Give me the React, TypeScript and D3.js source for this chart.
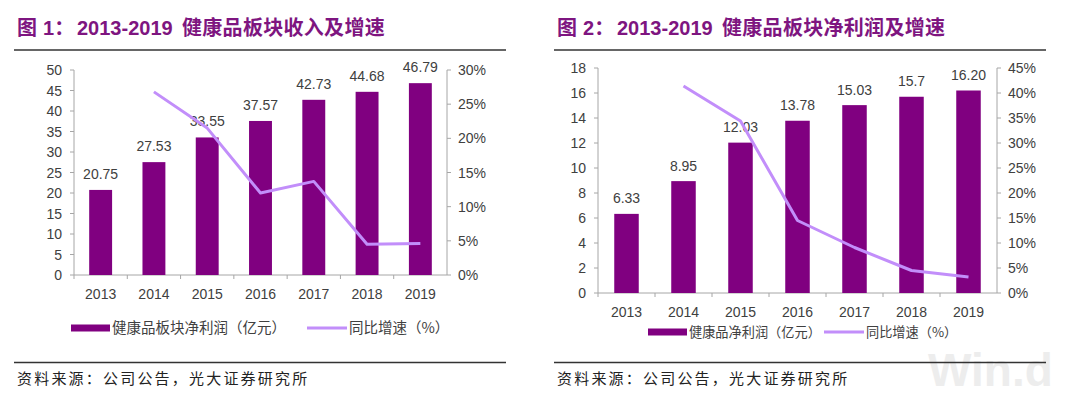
import React from "react";
import * as d3 from "d3";

const years = ["2013", "2014", "2015", "2016", "2017", "2018", "2019"];

// Figure 1: revenue (亿元) and YoY growth (%)
const revenue = [20.75, 27.53, 33.55, 37.57, 42.73, 44.68, 46.79];
const revenueLabels = ["20.75", "27.53", "33.55", "37.57", "42.73", "44.68", "46.79"];
const revenueGrowth: (number | null)[] = [null, 26.8, 21.5, 12.0, 13.7, 4.5, 4.6];
const revenueTicks = [0, 5, 10, 15, 20, 25, 30, 35, 40, 45, 50];
const revenuePctTicks = [0, 5, 10, 15, 20, 25, 30];

// Figure 2: net profit (亿元) and YoY growth (%)
const profit = [6.33, 8.95, 12.03, 13.78, 15.03, 15.7, 16.2];
const profitLabels = ["6.33", "8.95", "12.03", "13.78", "15.03", "15.7", "16.20"];
const profitGrowth: (number | null)[] = [null, 41.4, 34.4, 14.5, 9.1, 4.5, 3.2];
const profitTicks = [0, 2, 4, 6, 8, 10, 12, 14, 16, 18];
const profitPctTicks = [0, 5, 10, 15, 20, 25, 30, 35, 40, 45];

const BAR = "#800080";
const LINE = "#C28EFA";
const AXIS = "#A6A6A6";
const TEXT = "#404040";
const TITLE = "#7E1580";
const NUM_FONT = "'Liberation Sans', Arial, sans-serif";
const CJK_FONT = "'Noto Sans CJK SC', sans-serif";

interface PanelProps {
  x0: number; // panel left offset
  figNo: string;
  titleText: string;
  values: number[];
  labels: string[];
  growth: (number | null)[];
  leftTicks: number[];
  rightTicks: number[];
  plot: { left: number; right: number; top: number; bottom: number };
  yearY: number;
  legendY: number;
  legendSize: number;
  legend: { rect: number; barText: string; line: number; lineText: string };
  labelGap: number;
}

const Panel: React.FC<PanelProps> = ({ x0, figNo, titleText, values, labels, growth, leftTicks, rightTicks, plot, yearY, legendY, legendSize, legend, labelGap }) => {
  const x = d3.scaleBand<string>().domain(years).range([plot.left, plot.right]).paddingInner(0.57).paddingOuter(0.285);
  const band = d3.scaleBand<string>().domain(years).range([plot.left, plot.right]);
  const y = d3.scaleLinear().domain([0, leftTicks[leftTicks.length - 1]]).range([plot.bottom, plot.top]);
  const y2 = d3.scaleLinear().domain([0, rightTicks[rightTicks.length - 1]]).range([plot.bottom, plot.top]);

  const lineData = years.map((yr, i) => ({ yr, v: growth[i] })).filter((d) => d.v !== null) as { yr: string; v: number }[];
  const line = d3.line<{ yr: string; v: number }>()
    .x((d) => (band(d.yr) as number) + band.bandwidth() / 2)
    .y((d) => y2(d.v));

  return (
    <g transform={`translate(${x0},0)`}>
      <text y={35} fill={TITLE} fontWeight="bold" fontSize={20}>
        <tspan x={17} fontFamily={CJK_FONT}>图</tspan>
        <tspan x={43} fontFamily={NUM_FONT}>{figNo}</tspan>
        <tspan fontFamily={CJK_FONT}>：</tspan>
        <tspan x={77} fontFamily={NUM_FONT}>2013-2019</tspan>
        <tspan x={182} fontFamily={CJK_FONT} letterSpacing={0.3}>{titleText}</tspan>
      </text>
      <line x1={14} x2={506} y1={50} y2={50} stroke="#333" strokeWidth={1.5} />

      {/* left axis */}
      <line x1={plot.left} x2={plot.left} y1={plot.top} y2={plot.bottom} stroke={AXIS} />
      {leftTicks.map((t) => (
        <g key={"l" + t}>
          <line x1={plot.left - 4} x2={plot.left} y1={y(t)} y2={y(t)} stroke={AXIS} />
          <text x={plot.left - 12} y={y(t) + 5} textAnchor="end" fontFamily={NUM_FONT} fontSize={14} fill={TEXT}>{t}</text>
        </g>
      ))}

      {/* right axis */}
      <line x1={plot.right} x2={plot.right} y1={plot.top} y2={plot.bottom} stroke={AXIS} />
      {rightTicks.map((t) => (
        <g key={"r" + t}>
          <line x1={plot.right} x2={plot.right + 4} y1={y2(t)} y2={y2(t)} stroke={AXIS} />
          <text x={plot.right + 11} y={y2(t) + 5} fontFamily={NUM_FONT} fontSize={14} fill={TEXT}>{t}%</text>
        </g>
      ))}

      {/* x axis */}
      <line x1={plot.left} x2={plot.right} y1={plot.bottom} y2={plot.bottom} stroke={AXIS} />
      {years.map((yr) => (
        <line key={"t" + yr} x1={band(yr) as number} x2={band(yr) as number} y1={plot.bottom} y2={plot.bottom + 4} stroke={AXIS} />
      ))}
      {years.map((yr) => (
        <text key={"x" + yr} x={(band(yr) as number) + band.bandwidth() / 2} y={yearY} textAnchor="middle" fontFamily={NUM_FONT} fontSize={14} fill={TEXT}>{yr}</text>
      ))}

      {/* bars */}
      {years.map((yr, i) => (
        <rect key={"b" + yr} x={x(yr)} y={y(values[i])} width={x.bandwidth()} height={plot.bottom - y(values[i])} fill={BAR} />
      ))}
      {years.map((yr, i) => (
        <text key={"v" + yr} x={(x(yr) as number) + x.bandwidth() / 2} y={y(values[i]) - labelGap} textAnchor="middle" fontFamily={NUM_FONT} fontSize={14} fill={TEXT}>{labels[i]}</text>
      ))}

      {/* growth line */}
      <path d={line(lineData) || ""} fill="none" stroke={LINE} strokeWidth={3} strokeLinejoin="round" />

      {/* legend */}
      <rect x={legend.rect} y={legendY - 3.5} width={39} height={7} fill={BAR} />
      <text x={legend.rect + 41} y={legendY + legendSize * 0.36} fontFamily={CJK_FONT} fontSize={legendSize} fill={TEXT}>{legend.barText}</text>
      <line x1={legend.line} x2={legend.line + 40} y1={legendY} y2={legendY} stroke={LINE} strokeWidth={3} />
      <text x={legend.line + 42} y={legendY + legendSize * 0.36} fontFamily={CJK_FONT} fontSize={legendSize} fill={TEXT}>{legend.lineText}</text>

      <line x1={14} x2={506} y1={362.5} y2={362.5} stroke="#333" strokeWidth={1.5} />
      <text x={17} y={384} fontFamily={CJK_FONT} fontSize={15} letterSpacing={2.2} fill="#222">资料来源：公司公告，光大证券研究所</text>
    </g>
  );
};

export default function App() {
  return (
    <svg width={1080} height={398} style={{ position: "absolute", left: 0, top: 0, background: "#fff" }}>
      <rect width={1080} height={398} fill="#fff" />
      <text x={928} y={386} fontFamily={NUM_FONT} fontWeight="bold" fontSize={46} fill="#EDEDED">Win.d</text>
      <Panel
        x0={0}
        figNo="1"
        titleText="健康品板块收入及增速"
        values={revenue}
        labels={revenueLabels}
        growth={revenueGrowth}
        leftTicks={revenueTicks}
        rightTicks={revenuePctTicks}
        plot={{ left: 74, right: 447, top: 70, bottom: 275 }}
        yearY={299}
        legendY={328}
        legendSize={14.5}
        legend={{ rect: 71, barText: "健康品板块净利润（亿元）", line: 307, lineText: "同比增速（%）" }}
        labelGap={11}
      />
      <Panel
        x0={540}
        figNo="2"
        titleText="健康品板块净利润及增速"
        values={profit}
        labels={profitLabels}
        growth={profitGrowth}
        leftTicks={profitTicks}
        rightTicks={profitPctTicks}
        plot={{ left: 58, right: 457, top: 68, bottom: 293 }}
        yearY={317}
        legendY={332}
        legendSize={13.2}
        legend={{ rect: 108, barText: "健康品净利润（亿元）", line: 284, lineText: "同比增速（%）" }}
        labelGap={10.5}
      />
    </svg>
  );
}
